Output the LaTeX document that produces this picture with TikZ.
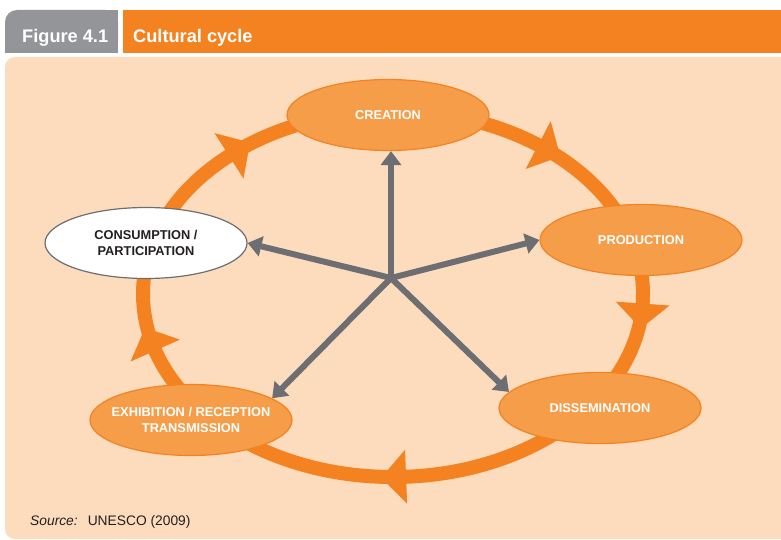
\documentclass[tikz,border=0pt]{standalone}
\usepackage{fontspec}
\setmainfont{Liberation Sans}
\usetikzlibrary{shapes.geometric,arrows.meta}
\definecolor{peach}{RGB}{253,220,190}
\definecolor{ringcol}{RGB}{245,130,32}
\definecolor{ellfill}{RGB}{246,157,74}
\definecolor{arrgray}{RGB}{109,110,113}
\definecolor{tabgray}{RGB}{147,149,152}
\definecolor{txtdark}{RGB}{35,31,32}
\newcommand\ringtip[1]{%
  \pgfmathsetmacro\rpx{393+250*cos(#1)}%
  \pgfmathsetmacro\rpy{245+183*sin(#1)}%
  \pgfmathsetmacro\rta{atan2(-183*cos(#1),250*sin(#1))}%
  \fill[ringcol,shift={(\rpx,\rpy)},rotate=\rta] (0,-27) -- (25,0) -- (0,27) -- cycle;}
\tikzset{
  stage/.style={ellipse, draw=ringcol, line width=1.2pt, fill=ellfill, minimum width=202pt, minimum height=71pt, inner ysep=0pt, inner xsep=-25pt, align=center, text=white, font=\bfseries\fontsize{12.8}{16.5}\selectfont},
  stagewhite/.style={stage, draw=arrgray, fill=white, text=txtdark},
  spoke/.style={draw=arrgray, line width=6pt, -{Triangle[length=14pt,width=20pt]}},
  headtxt/.style={anchor=base west, text=white, font=\bfseries\fontsize{18.2}{20}\selectfont, inner sep=0pt}
}
\begin{document}
\begin{tikzpicture}[x=1pt,y=1pt]
\useasboundingbox (0,0) rectangle (781,539);
\fill[white] (0,0) rectangle (781,539);
% panel
\fill[peach, rounded corners=10pt] (5,0) rectangle (800,482);
\fill[peach] (400,0) rectangle (781,482);
% header
\fill[tabgray, rounded corners=12pt] (5,486) rectangle (118,529);
\fill[tabgray] (5,486) rectangle (118,500);
\fill[tabgray] (60,486) rectangle (118,529);
\fill[ringcol] (123,486) rectangle (781,529);
\node[headtxt] (figlabel) at (22,496) {Figure 4.1};
\node[headtxt] (figtitle) at (133,496) {Cultural cycle};
% ring
\draw[ringcol, line width=14pt] (393,245) ellipse [x radius=250, y radius=183];
\ringtip{131}
\ringtip{54.5}
\ringtip{-3}
\ringtip{-87}
\ringtip{198}
% stages
\node[stage] (creation) at (388,424) {CREATION};
\node[stage] (production) at (641,299) {PRODUCTION};
\node[stage] (dissemination) at (600,131) {DISSEMINATION};
\node[stage] (exhibition) at (191,119) {EXHIBITION / RECEPTION\\TRANSMISSION};
\node[stagewhite] (consumption) at (146,296) {CONSUMPTION /\\PARTICIPATION};
% spokes
\coordinate (hub) at (391,261);
\draw[spoke] (hub) -- (hub |- creation.south);
\draw[spoke] (hub) -- (production.west);
\draw[spoke] (hub) -- (dissemination.170);
\draw[spoke] (hub) -- (exhibition.15);
\draw[spoke] (hub) -- (consumption.east);
% source
\node[anchor=base west, inner sep=0pt, text=txtdark, font=\fontsize{13.8}{16}\selectfont] (source) at (30,14) {\textit{Source:}\hspace{10pt}UNESCO (2009)};
\end{tikzpicture}
\end{document}
